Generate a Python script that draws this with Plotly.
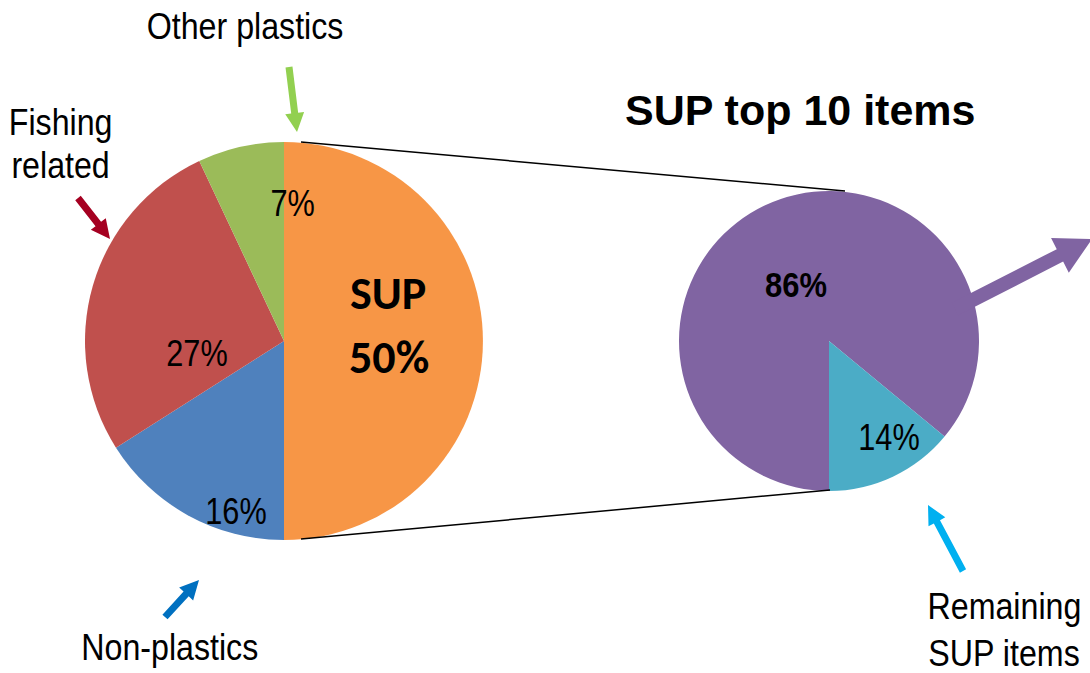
import math
import plotly.graph_objects as go

W, H = 1090, 673

# ---- data ----
main_labels = ["SUP", "Non-plastics", "Fishing related", "Other plastics"]
main_values = [50, 16, 27, 7]
main_colors = ["#F79646", "#4F81BD", "#C0504D", "#9BBB59"]

sub_labels = ["SUP top 10 items", "Remaining SUP items"]
sub_values = [86, 14]
sub_colors = ["#8064A2", "#4BACC6"]

title_text = "SUP top 10 items"

SANS = "Liberation Sans, Arial, sans-serif"
CAL = "Carlito, Calibri, Lato, Open Sans, sans-serif"


def px(x, y):
    return x / W, 1 - y / H


def dom(x0, x1, y0, y1):
    return dict(x=[x0 / W, x1 / W], y=[1 - y1 / H, 1 - y0 / H])


fig = go.Figure()
fig.add_trace(go.Pie(
    labels=main_labels, values=main_values, sort=False, direction="clockwise",
    rotation=0, marker=dict(colors=main_colors, line=dict(width=0)),
    textinfo="none", hoverinfo="label+percent", showlegend=False,
    domain=dom(85, 483, 142, 540),
))
fig.add_trace(go.Pie(
    labels=sub_labels, values=sub_values, sort=False, direction="clockwise",
    rotation=180, marker=dict(colors=sub_colors, line=dict(width=0)),
    textinfo="none", hoverinfo="label+percent", showlegend=False,
    domain=dom(679, 979, 191, 491),
))

shapes = []


def line(x0, y0, x1, y1, color="black", width=1.5):
    a = px(x0, y0)
    b = px(x1, y1)
    shapes.append(dict(type="line", xref="paper", yref="paper",
                       x0=a[0], y0=a[1], x1=b[0], y1=b[1],
                       line=dict(color=color, width=width)))


def arrow(tx, ty, hx, hy, color, sw, hw, hl):
    dx, dy = hx - tx, hy - ty
    L = math.hypot(dx, dy)
    ux, uy = dx / L, dy / L
    nx, ny = -uy, ux
    bx, by = hx - ux * hl, hy - uy * hl
    pts = [
        (tx + nx * sw / 2, ty + ny * sw / 2),
        (bx + nx * sw / 2, by + ny * sw / 2),
        (bx + nx * hw / 2, by + ny * hw / 2),
        (hx, hy),
        (bx - nx * hw / 2, by - ny * hw / 2),
        (bx - nx * sw / 2, by - ny * sw / 2),
        (tx - nx * sw / 2, ty - ny * sw / 2),
    ]
    path = "M " + " L ".join(f"{px(x, y)[0]:.5f},{px(x, y)[1]:.5f}" for x, y in pts) + " Z"
    shapes.append(dict(type="path", xref="paper", yref="paper", path=path,
                       fillcolor=color, line=dict(width=0)))


# connector lines
line(301, 142, 845, 191)
line(301, 539, 830, 490)

# arrows
arrow(289, 67, 297, 132, "#92D050", 7, 19, 19)
arrow(78, 198, 110, 239, "#A50021", 7, 19, 19)
arrow(165, 617, 199, 580, "#0070C0", 7, 19, 19)
arrow(963, 571, 928, 505, "#00B0F0", 7, 19, 19)
arrow(955, 309, 1092, 239, "#8064A2", 14, 39, 36)

ann = []
scales = {}


def text(x, y, s, size, family=SANS, bold=False, scale=None):
    xx, yy = px(x, y)
    if bold:
        s = f"<b>{s}</b>"
    if scale:
        scales[len(ann)] = scale
    ann.append(dict(x=xx, y=yy, xref="paper", yref="paper", text=s, showarrow=False,
                    xanchor="center", yanchor="middle",
                    font=dict(family=family, size=size, color="black")))


WORD = 0.87
NUM = 0.83
text(245, 27, main_labels[3], 37, scale=WORD)
text(60, 122, "Fishing", 37, scale=WORD)
text(60, 165, "related", 37, scale=WORD)
text(170, 647, main_labels[1], 37, scale=WORD)
text(1004, 606, "Remaining", 37, scale=WORD)
text(1004, 653, "SUP items", 37, scale=WORD)
text(800, 110, title_text, 43, bold=True)

text(292, 203, f"{main_values[3]}%", 37, scale=NUM)
text(388, 293, main_labels[0], 46, family=CAL, bold=True)
text(389, 357, f"{main_values[0]}%", 46, family=CAL, bold=True)
text(197, 353, f"{main_values[2]}%", 37, scale=NUM)
text(236, 511, f"{main_values[1]}%", 37, scale=NUM)
text(796, 284, f"{sub_values[0]}%", 36, bold=True, scale=0.86)
text(889, 437, f"{sub_values[1]}%", 37, scale=NUM)

fig.update_layout(
    width=W, height=H, margin=dict(l=0, r=0, t=0, b=0),
    paper_bgcolor="white", plot_bgcolor="white",
    shapes=shapes, annotations=ann,
)

post = """
document.body.style.margin = '0';
document.body.style.overflow = 'hidden';
var gd = document.getElementById('{plot_id}');
var sc = %s;
gd.querySelectorAll('g.annotation').forEach(function (g) {
  var i = g.getAttribute('data-index');
  if (sc[i]) {
    var t = g.querySelector('text.annotation-text');
    if (t) {
      t.style.transformBox = 'fill-box';
      t.style.transformOrigin = 'center';
      t.style.transform = 'scaleX(' + sc[i] + ')';
    }
  }
});
""" % ("{" + ", ".join(f'"{k}": {v}' for k, v in scales.items()) + "}")

fig.write_html("out.html", post_script=post, config={"displayModeBar": False})
